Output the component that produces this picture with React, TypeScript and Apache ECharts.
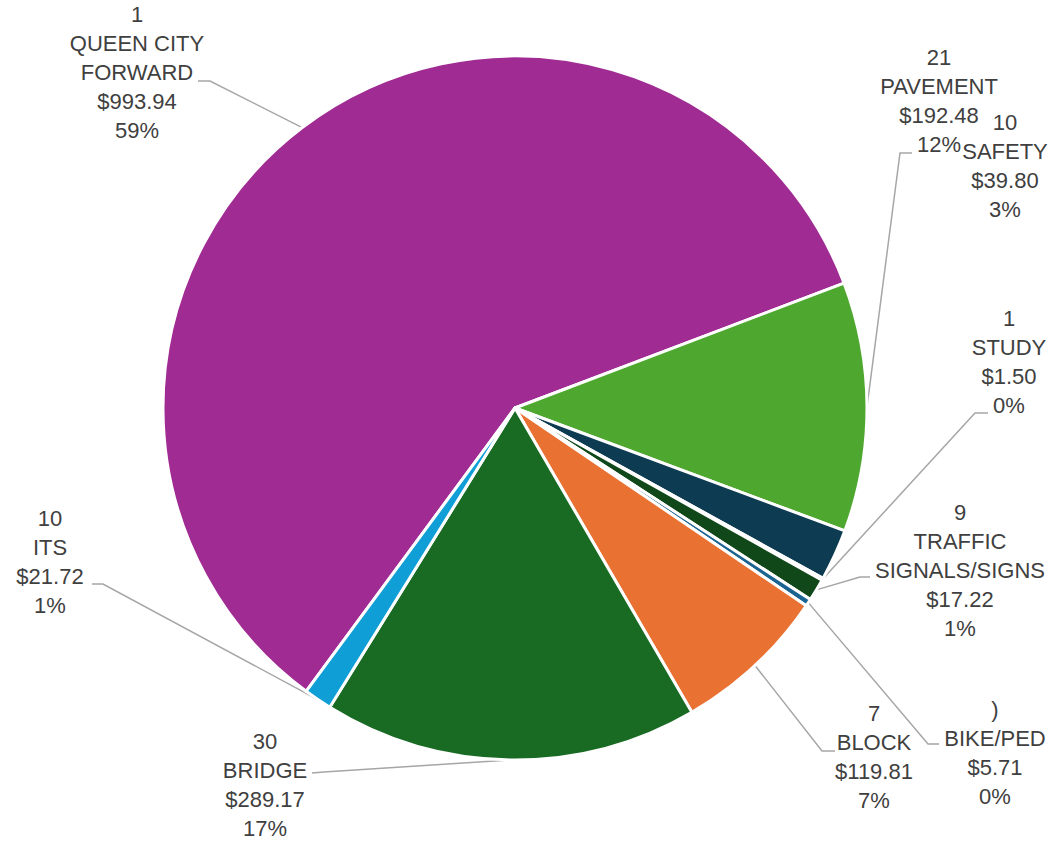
import React, { useEffect, useRef } from "react";
import * as echarts from "echarts";

// ---- data ----
const categories = [
  "QUEEN CITY\nFORWARD",
  "PAVEMENT",
  "SAFETY",
  "STUDY",
  "TRAFFIC\nSIGNALS/SIGNS",
  "BIKE/PED",
  "BLOCK",
  "BRIDGE",
  "ITS",
];
const counts = ["1", "21", "10", "1", "9", ")", "7", "30", "10"];
const amounts = [993.94, 192.48, 39.8, 1.5, 17.22, 5.71, 119.81, 289.17, 21.72];
const colors = [
  "#A02B93",
  "#4EA72E",
  "#0D3B52",
  "#7A1F70",
  "#11481A",
  "#1B6492",
  "#E97132",
  "#196B24",
  "#0F9ED5",
];
const showLeader = [true, true, false, true, true, true, true, true, true];

// ---- label layout (label block centre, leader elbow, leader end) ----
const labelPlace = [
  { x: 137, y: 72, elbow: [210, 81], end: [198, 81] },
  { x: 939, y: 101, elbow: [900, 153], end: [912, 153] },
  { x: 1005, y: 166, elbow: null, end: null },
  { x: 1009, y: 362, elbow: [975, 413], end: [988, 413] },
  { x: 960, y: 570, elbow: [860, 577], end: [870, 577] },
  { x: 995, y: 753, elbow: [928, 744], end: [939, 744] },
  { x: 874, y: 757, elbow: [822, 751], end: [835, 751] },
  { x: 265, y: 785, elbow: [324, 772], end: [312, 773] },
  { x: 50, y: 562, elbow: [103, 584], end: [92, 584] },
];

export default function App() {
  const ref = useRef<HTMLDivElement>(null);
  useEffect(() => {
    if (!ref.current) return;
    const chart = echarts.init(ref.current, undefined, { renderer: "svg" });
    const data = categories.map((name, i) => ({
      name,
      value: amounts[i],
      itemStyle: { color: colors[i] },
      labelLine: { show: showLeader[i] },
    }));
    chart.setOption({
      animation: false,
      backgroundColor: "#ffffff",
      series: [
        {
          type: "pie",
          center: [515, 408],
          radius: [0, 352],
          startAngle: 233.6,
          clockwise: true,
          percentPrecision: 0,
          avoidLabelOverlap: false,
          itemStyle: { borderColor: "#ffffff", borderWidth: 3 },
          label: {
            show: true,
            position: "outside",
            color: "#404040",
            fontSize: 22,
            lineHeight: 29,
            fontFamily: "Liberation Sans, Arial, sans-serif",
            align: "center",
            formatter: (p: any) =>
              `${counts[p.dataIndex]}\n${p.name}\n$${Number(p.value).toFixed(2)}\n${p.percent}%`,
          },
          labelLine: {
            show: true,
            smooth: false,
            lineStyle: { color: "#A6A6A6", width: 1.5 },
          },
          labelLayout: (params: any) => {
            const pl = labelPlace[params.dataIndex];
            const out: any = {
              x: pl.x,
              y: pl.y,
              align: "center",
              verticalAlign: "middle",
            };
            const pts = params.labelLinePoints;
            if (pts && pts[0] && pl.elbow && pl.end) {
              out.labelLinePoints = [
                [pts[0][0], pts[0][1]],
                pl.elbow,
                pl.end,
              ];
            }
            return out;
          },
          data,
        },
      ],
    });
    return () => chart.dispose();
  }, []);
  return (
    <div
      ref={ref}
      style={{ position: "absolute", left: 0, top: 0, width: 1051, height: 847 }}
    />
  );
}
